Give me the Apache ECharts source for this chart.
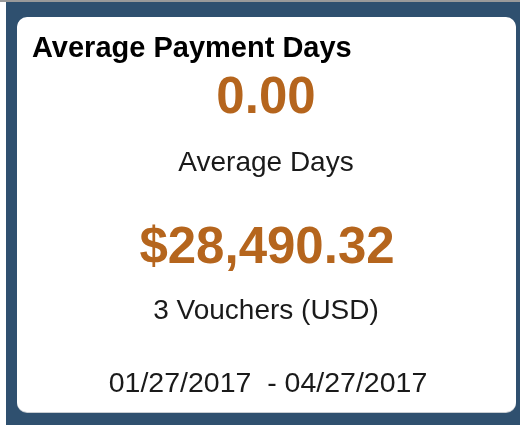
<!DOCTYPE html>
<html>
<head>
<meta charset="utf-8">
<script src="https://cdn.jsdelivr.net/npm/echarts@6/dist/echarts.min.js"></script>
<style>
  html, body { margin: 0; padding: 0; background: #fff; }
  #main { width: 520px; height: 425px; }
</style>
</head>
<body>
<div id="main"></div>
<script>
// tile data
var tileTitle = 'Average Payment Days';
var avgDays = [0.00];
var avgDaysLabel = ['Average Days'];
var totalAmount = [28490.32];
var voucherCount = [3];
var currency = ['USD'];
var dateRange = ['01/27/2017', '04/27/2017'];

var font = 'Arial, "Liberation Sans", sans-serif';
var orange = '#b5651d';
var cx = 267;

function money(v) {
  return '$' + v.toLocaleString('en-US', { minimumFractionDigits: 2, maximumFractionDigits: 2 });
}

function txt(text, x, y, size, weight, color, align) {
  return {
    type: 'text',
    x: x,
    y: y,
    style: {
      text: text,
      font: weight + ' ' + size + 'px ' + font,
      fill: color,
      textAlign: align || 'center',
      textVerticalAlign: 'middle'
    }
  };
}

var chart = echarts.init(document.getElementById('main'));
chart.setOption({
  backgroundColor: '#ffffff',
  animation: false,
  graphic: [
    { type: 'rect', shape: { x: 0, y: 0, width: 520, height: 2 }, style: { fill: '#9a9a9a' } },
    { type: 'rect', shape: { x: 6, y: 2, width: 514, height: 423 }, style: { fill: '#2f506f' } },
    { type: 'rect', shape: { x: 17, y: 18, width: 499, height: 395, r: 10 }, style: { fill: '#c8cdd2' } },
    { type: 'rect', shape: { x: 17, y: 17, width: 499, height: 395, r: 10 }, style: { fill: '#ffffff' } },
    txt(tileTitle, 32, 49, 29, 'bold', '#000000', 'left'),
    txt(avgDays[0].toFixed(2), cx - 1, 99, 51, 'bold', orange),
    txt(avgDaysLabel[0], cx - 1, 163, 28, 'normal', '#1a1a1a'),
    txt(money(totalAmount[0]), cx, 249, 51, 'bold', orange),
    txt(voucherCount[0] + ' Vouchers (' + currency[0] + ')', cx - 1, 311, 28, 'normal', '#1a1a1a'),
    txt(dateRange[0] + '  - ' + dateRange[1], cx + 1, 384, 28.5, 'normal', '#1a1a1a')
  ]
});
</script>
</body>
</html>
